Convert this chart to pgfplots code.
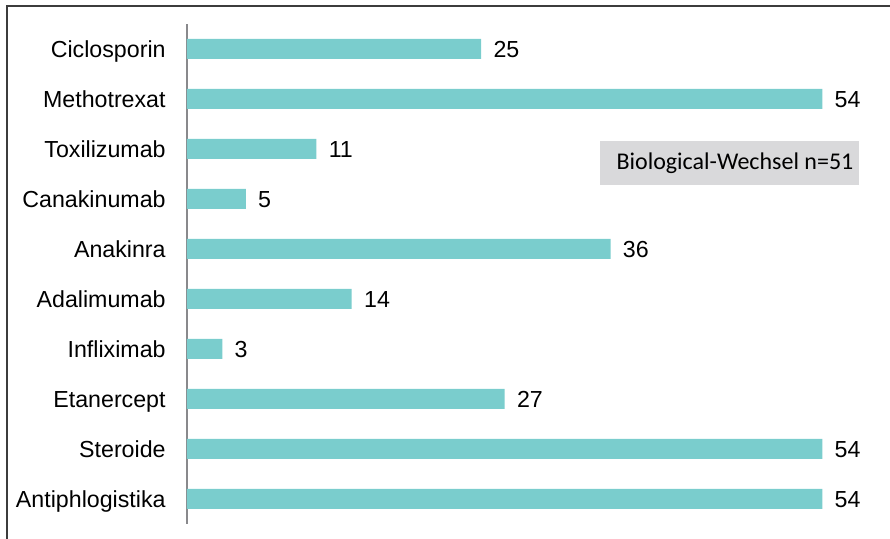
\documentclass[border=0pt]{standalone}
\usepackage{pgfplots}
\pgfplotsset{compat=1.18}
\usepackage{fontspec}
\setmainfont{Liberation Sans}
\newfontfamily\calibri{Carlito}
\definecolor{barc}{RGB}{122,205,205}
\definecolor{boxc}{RGB}{217,217,219}
\definecolor{framec}{RGB}{60,60,60}
\definecolor{axc}{RGB}{137,137,140}
\begin{document}
\begin{tikzpicture}[x=1pt,y=1pt]
\useasboundingbox (-93.5,-7.5) rectangle (351.5,262);
\draw[line width=0.8pt, framec] (-90,-7.5) -- (-90,259) -- (351.5,259);
\begin{axis}[
  at={(0,0)}, anchor=south west,
  scale only axis, width=350pt, height=250pt,
  xmin=0, xmax=59.5, ymin=-0.5, ymax=9.5,
  xbar, bar width=10pt,
  axis x line=none, axis y line*=left,
  y axis line style={-, line width=1pt, axc},
  ytick={0,...,9},
  yticklabels={Antiphlogistika, Steroide, Etanercept, Infliximab, Adalimumab, Anakinra, Canakinumab, Toxilizumab, Methotrexat, Ciclosporin},
  major tick length=0pt,
  /pgf/number format/assume math mode=true,
  yticklabel style={font=\fontsize{11.6}{13}\selectfont, inner sep=0pt, anchor=base east, xshift=-10.5pt, yshift=-4.2pt},
  nodes near coords,
  every node near coord/.append style={font=\fontsize{11.6}{13}\selectfont, anchor=base west, inner sep=0pt, xshift=6pt, yshift=-4.2pt},
  clip=false,
]
\addplot[fill=barc, draw=none] coordinates {(54,0) (54,1) (27,2) (3,3) (14,4) (36,5) (5,6) (11,7) (54,8) (25,9)};
\fill[boxc] (axis cs:35.12,6.28) rectangle (axis cs:57.14,7.16);
\node[anchor=west, inner sep=0pt, font=\fontsize{12}{14}\calibri] at (axis cs:36.48,6.72) {Biological-Wechsel n=51};
\end{axis}
\end{tikzpicture}
\end{document}
